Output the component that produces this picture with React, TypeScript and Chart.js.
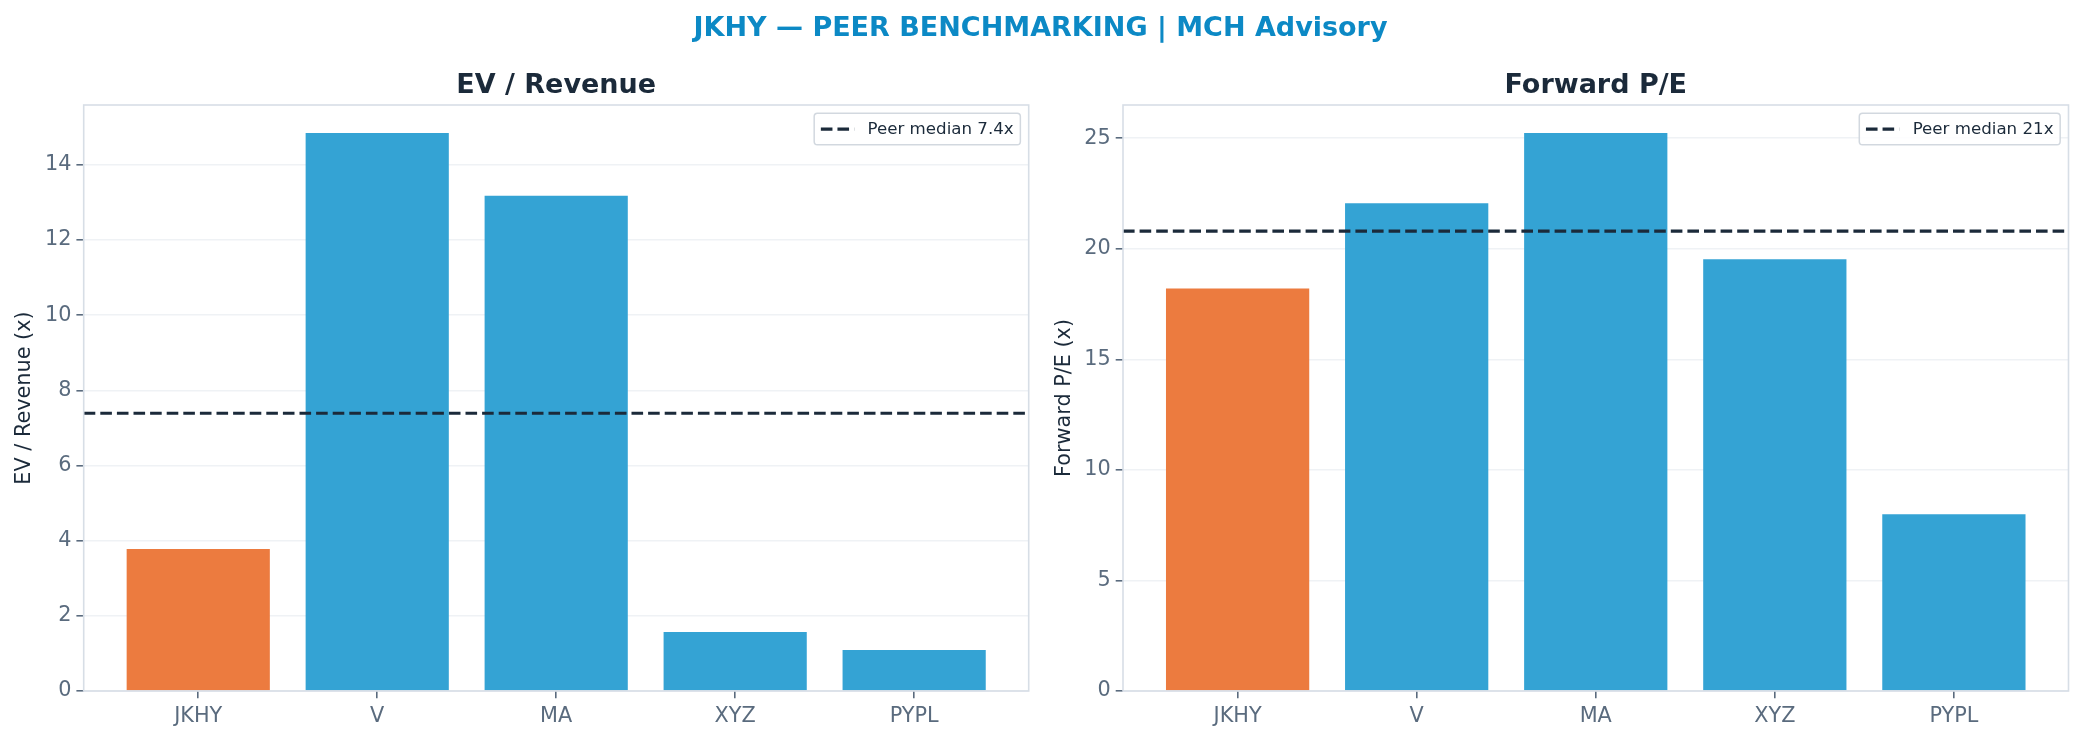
import React, { useEffect, useRef } from 'react';
import { Chart, registerables } from 'chart.js';

Chart.register(...registerables);

// ---------------- data ----------------
const categories = ['JKHY', 'V', 'MA', 'XYZ', 'PYPL'];
const highlightCategory = 'JKHY';
const evRevenueValues = [3.78, 14.85, 13.18, 1.57, 1.09];
const forwardPEValues = [18.2, 22.06, 25.24, 19.53, 7.99];
const evMedian = 7.39;
const peMedian = 20.8;
const evTicks = [0, 2, 4, 6, 8, 10, 12, 14];
const peTicks = [0, 5, 10, 15, 20, 25];
const evMedianLabel = 'Peer median 7.4x';
const peMedianLabel = 'Peer median 21x';
const suptitleText = 'JKHY — PEER BENCHMARKING | MCH Advisory';
const evTitle = 'EV / Revenue';
const peTitle = 'Forward P/E';
const evAxisLabel = 'EV / Revenue (x)';
const peAxisLabel = 'Forward P/E (x)';

// ---------------- styles ----------------
const FONT = "'DejaVu Sans', 'Liberation Sans', sans-serif";
const ORANGE = '#EC7B3F';
const BLUE = '#34A3D4';
const DARK = '#1B2A3A';
const TICK = '#5A6B7E';
const SPINE = '#D7DEE6';
const GRID = 'rgba(215,222,230,0.4)';
const SUPTITLE = '#0C89C5';

const W = 2084;
const H = 741;

const framePlugin = {
  id: 'peerFrame',
  afterDraw(chart: any, _args: any, opts: any) {
    const { ctx, chartArea } = chart;
    const ca = chartArea;
    ctx.save();
    // spines
    ctx.strokeStyle = SPINE;
    ctx.lineWidth = 1.6;
    ctx.setLineDash([]);
    ctx.strokeRect(ca.left, ca.top, ca.right - ca.left, ca.bottom - ca.top);

    // legend box
    const fs = 16.67;
    ctx.font = `${fs}px ${FONT}`;
    const text: string = opts.text || '';
    const tw = ctx.measureText(text).width;
    const pad = 0.4 * fs;
    const handle = 2.0 * fs;
    const hpad = 0.8 * fs;
    const w = pad + handle + hpad + tw + pad;
    const h = 31.5;
    const right = ca.right - 0.5 * fs;
    const top = ca.top + 0.5 * fs;
    const left = right - w;
    const r = 3.3;
    ctx.beginPath();
    ctx.moveTo(left + r, top);
    ctx.lineTo(right - r, top);
    ctx.arcTo(right, top, right, top + r, r);
    ctx.lineTo(right, top + h - r);
    ctx.arcTo(right, top + h, right - r, top + h, r);
    ctx.lineTo(left + r, top + h);
    ctx.arcTo(left, top + h, left, top + h - r, r);
    ctx.lineTo(left, top + r);
    ctx.arcTo(left, top, left + r, top, r);
    ctx.closePath();
    ctx.fillStyle = 'rgba(255,255,255,0.85)';
    ctx.fill();
    ctx.strokeStyle = 'rgba(205,212,220,0.9)';
    ctx.lineWidth = 1.5;
    ctx.stroke();

    const cy = top + h / 2;
    ctx.beginPath();
    ctx.setLineDash([11.6, 5]);
    ctx.strokeStyle = DARK;
    ctx.lineWidth = 3.1;
    ctx.moveTo(left + pad, cy);
    ctx.lineTo(left + pad + handle, cy);
    ctx.stroke();
    ctx.setLineDash([]);

    ctx.fillStyle = DARK;
    ctx.textBaseline = 'middle';
    ctx.textAlign = 'left';
    ctx.fillText(text, left + pad + handle + hpad, cy + 0.5);
    ctx.restore();
  },
};

interface PanelProps {
  left: number;
  width: number;
  yWidth: number;
  padRight: number;
  title: string;
  axisLabel: string;
  values: number[];
  median: number;
  medianLabel: string;
  ticks: number[];
}

function makeConfig(p: PanelProps): any {
  const xMin = -0.4 - 0.05 * 4.8;
  const xMax = categories.length - 1 + 0.4 + 0.05 * 4.8;
  const yMax = Math.max(...p.values) * 1.05;
  return {
    type: 'bar',
    data: {
      datasets: [
        {
          type: 'line',
          data: [
            { x: xMin, y: p.median },
            { x: xMax, y: p.median },
          ],
          borderColor: DARK,
          borderWidth: 3.1,
          borderDash: [11.6, 5],
          pointRadius: 0,
          fill: false,
          order: 0,
        },
        {
          type: 'bar',
          data: p.values.map((v, i) => ({ x: i, y: v })),
          backgroundColor: categories.map((c) => (c === highlightCategory ? ORANGE : BLUE)),
          borderWidth: 0,
          categoryPercentage: 1,
          barPercentage: 0.8,
          order: 1,
        },
      ],
    },
    options: {
      animation: false,
      responsive: false,
      maintainAspectRatio: false,
      events: [],
      layout: { padding: { left: 0, right: p.padRight, top: 0, bottom: 0 } },
      plugins: {
        legend: { display: false },
        tooltip: { enabled: false },
        title: {
          display: true,
          text: p.title,
          color: DARK,
          font: { family: FONT, size: 27, weight: 'bold', lineHeight: 1.2 },
          padding: { top: 69.4, bottom: 3.2 },
          fullSize: false,
        },
        peerFrame: { text: p.medianLabel },
      },
      scales: {
        x: {
          type: 'linear',
          min: xMin,
          max: xMax,
          offset: false,
          border: { display: false },
          grid: {
            display: true,
            offset: false,
            drawOnChartArea: false,
            drawTicks: true,
            tickLength: 7.3,
            tickColor: TICK,
            lineWidth: 1.6,
          },
          afterBuildTicks: (scale: any) => {
            scale.ticks = categories.map((_, i) => ({ value: i }));
          },
          afterFit: (scale: any) => {
            scale.height = H - 691;
          },
          ticks: {
            color: TICK,
            font: { family: FONT, size: 20.8 },
            padding: 5.6,
            maxRotation: 0,
            autoSkip: false,
            callback: (v: any) => categories[Math.round(v)] ?? '',
          },
        },
        y: {
          type: 'linear',
          min: 0,
          max: yMax,
          z: 1,
          border: { display: false },
          grid: {
            display: true,
            color: GRID,
            lineWidth: 1.6,
            drawTicks: true,
            tickLength: 7.3,
            tickColor: TICK,
          },
          afterBuildTicks: (scale: any) => {
            scale.ticks = p.ticks.map((v) => ({ value: v }));
          },
          afterFit: (scale: any) => {
            scale.width = p.yWidth;
          },
          ticks: {
            color: TICK,
            font: { family: FONT, size: 20.8 },
            padding: 5,
            callback: (v: any) => String(v),
          },
          title: {
            display: true,
            text: p.axisLabel,
            color: DARK,
            font: { family: FONT, size: 20.8, lineHeight: 1.2 },
            padding: { top: 12, bottom: 0 },
          },
        },
      },
    },
    plugins: [framePlugin],
  };
}

function Panel(p: PanelProps) {
  const ref = useRef<HTMLCanvasElement>(null);
  useEffect(() => {
    if (!ref.current) return;
    const chart = new Chart(ref.current, makeConfig(p));
    return () => chart.destroy();
  }, []);
  return (
    <canvas
      ref={ref}
      width={p.width}
      height={H}
      style={{ position: 'absolute', left: p.left, top: 0, width: p.width, height: H }}
    />
  );
}

export default function App() {
  return (
    <div style={{ position: 'relative', width: W, height: H, background: '#ffffff', overflow: 'hidden' }}>
      <style>{`body{margin:0;background:#fff;}`}</style>
      <Panel
        left={0}
        width={1040}
        yWidth={83.7}
        padRight={1040 - 1028.7}
        title={evTitle}
        axisLabel={evAxisLabel}
        values={evRevenueValues}
        median={evMedian}
        medianLabel={evMedianLabel}
        ticks={evTicks}
      />
      <Panel
        left={1040}
        width={1044}
        yWidth={83}
        padRight={1044 - 1028.5}
        title={peTitle}
        axisLabel={peAxisLabel}
        values={forwardPEValues}
        median={peMedian}
        medianLabel={peMedianLabel}
        ticks={peTicks}
      />
      <div
        style={{
          position: 'absolute',
          left: 0,
          top: 13,
          width: 2081,
          textAlign: 'center',
          fontFamily: FONT,
          fontWeight: 'bold',
          fontSize: 27,
          lineHeight: '27px',
          color: SUPTITLE,
          whiteSpace: 'nowrap',
        }}
      >
        {suptitleText}
      </div>
    </div>
  );
}
